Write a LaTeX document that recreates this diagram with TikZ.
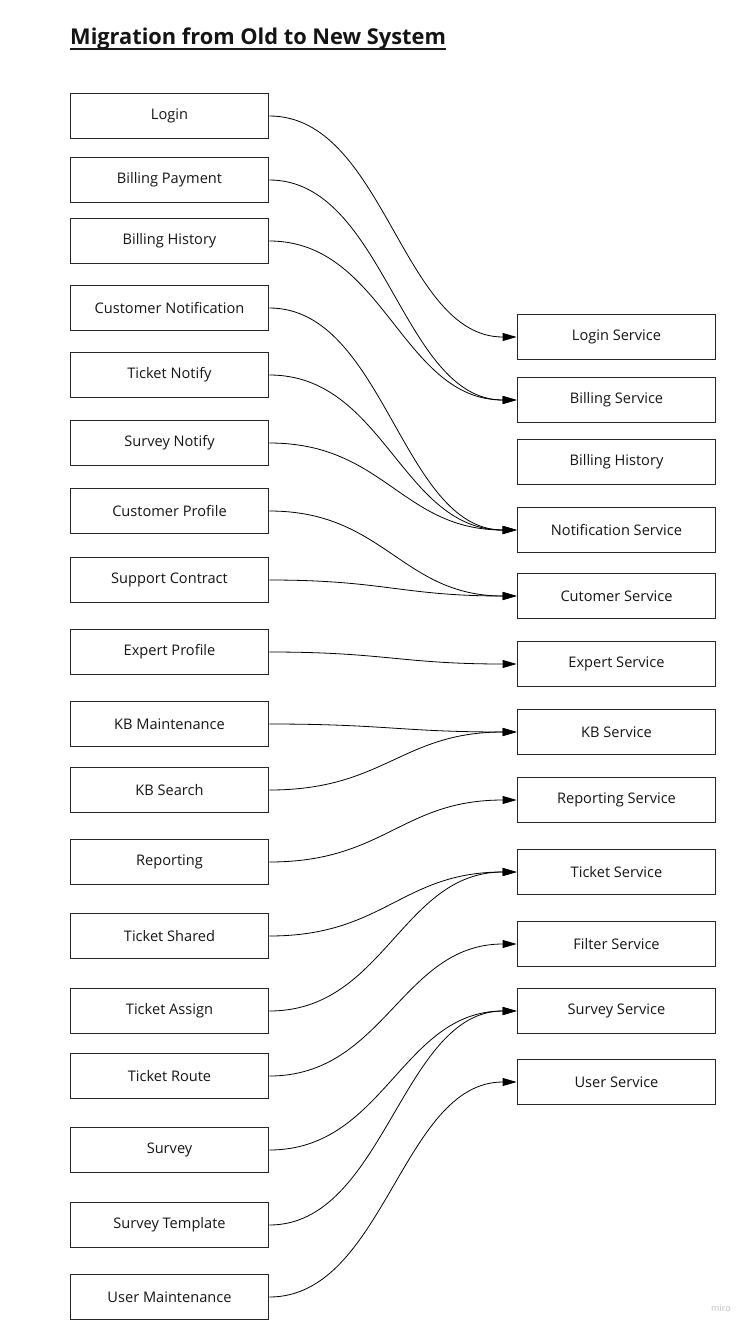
\documentclass[tikz,border=0pt]{standalone}
\usepackage{fontspec}
\setmainfont{Open Sans}
\usetikzlibrary{arrows.meta}
\begin{document}
\begin{tikzpicture}[x=1pt,y=-1pt,
  box/.style={draw=black!85, line width=1.8pt, minimum width=198pt, minimum height=45pt,
    inner sep=0pt, font=\fontsize{14.6}{17}\selectfont, text=black!92},
  link/.style={line width=0.8pt, -{Triangle[length=14pt,width=8pt]}},
  titletext/.style={anchor=base west, inner sep=0pt, font=\bfseries\fontsize{21.8}{26}\selectfont, text=black!92},
]
\useasboundingbox (0,0) rectangle (751,1330);

% title
\node[titletext] (title) at (70,45) {Migration from Old to New System};
\draw[line width=2pt, black!90] ([yshift=-4pt]title.base west) -- ([yshift=-4pt]title.base east);

% left column
\node[box] (login)   at (169.5,116)  {Login};
\node[box] (bpay)    at (169.5,180)  {Billing Payment};
\node[box] (bhist)   at (169.5,241)  {Billing History};
\node[box] (cnotif)  at (169.5,308)  {Customer Notification};
\node[box] (tnotif)  at (169.5,375)  {Ticket Notify};
\node[box] (snotif)  at (169.5,443)  {Survey Notify};
\node[box] (cprof)   at (169.5,511)  {Customer Profile};
\node[box] (scont)   at (169.5,580)  {Support Contract};
\node[box] (eprof)   at (169.5,652)  {Expert Profile};
\node[box] (kbm)     at (169.5,724)  {KB Maintenance};
\node[box] (kbs)     at (169.5,790)  {KB Search};
\node[box] (rep)     at (169.5,862)  {Reporting};
\node[box] (tshared) at (169.5,936)  {Ticket Shared};
\node[box] (tassign) at (169.5,1011) {Ticket Assign};
\node[box] (troute)  at (169.5,1076) {Ticket Route};
\node[box] (survey)  at (169.5,1150) {Survey};
\node[box] (stemp)   at (169.5,1225) {Survey Template};
\node[box] (umaint)  at (169.5,1297) {User Maintenance};

% right column
\node[box] (loginS)  at (616.5,337)  {Login Service};
\node[box] (billS)   at (616.5,400)  {Billing Service};
\node[box] (bhistS)  at (616.5,462)  {Billing History};
\node[box] (notifS)  at (616.5,530)  {Notification Service};
\node[box] (custS)   at (616.5,596)  {Cutomer Service};
\node[box] (expS)    at (616.5,664)  {Expert Service};
\node[box] (kbS)     at (616.5,732)  {KB Service};
\node[box] (repS)    at (616.5,800)  {Reporting Service};
\node[box] (tickS)   at (616.5,872)  {Ticket Service};
\node[box] (filtS)   at (616.5,944)  {Filter Service};
\node[box] (survS)   at (616.5,1011) {Survey Service};
\node[box] (userS)   at (616.5,1082) {User Service};

% connectors
\foreach \a/\b in {login/loginS, bpay/billS, bhist/billS, cnotif/notifS, tnotif/notifS,
  snotif/notifS, cprof/custS, scont/custS, eprof/expS, kbm/kbS, kbs/kbS, rep/repS,
  tshared/tickS, tassign/tickS, troute/filtS, survey/survS, stemp/survS, umaint/userS}
  \draw[link] (\a.east) .. controls +(115,0) and +(-115,0) .. (\b.west);

% watermark
\node[font=\fontsize{9}{10}\selectfont, text=black!25, inner sep=0pt] (miro) at (721,1308) {miro};
\end{tikzpicture}
\end{document}
